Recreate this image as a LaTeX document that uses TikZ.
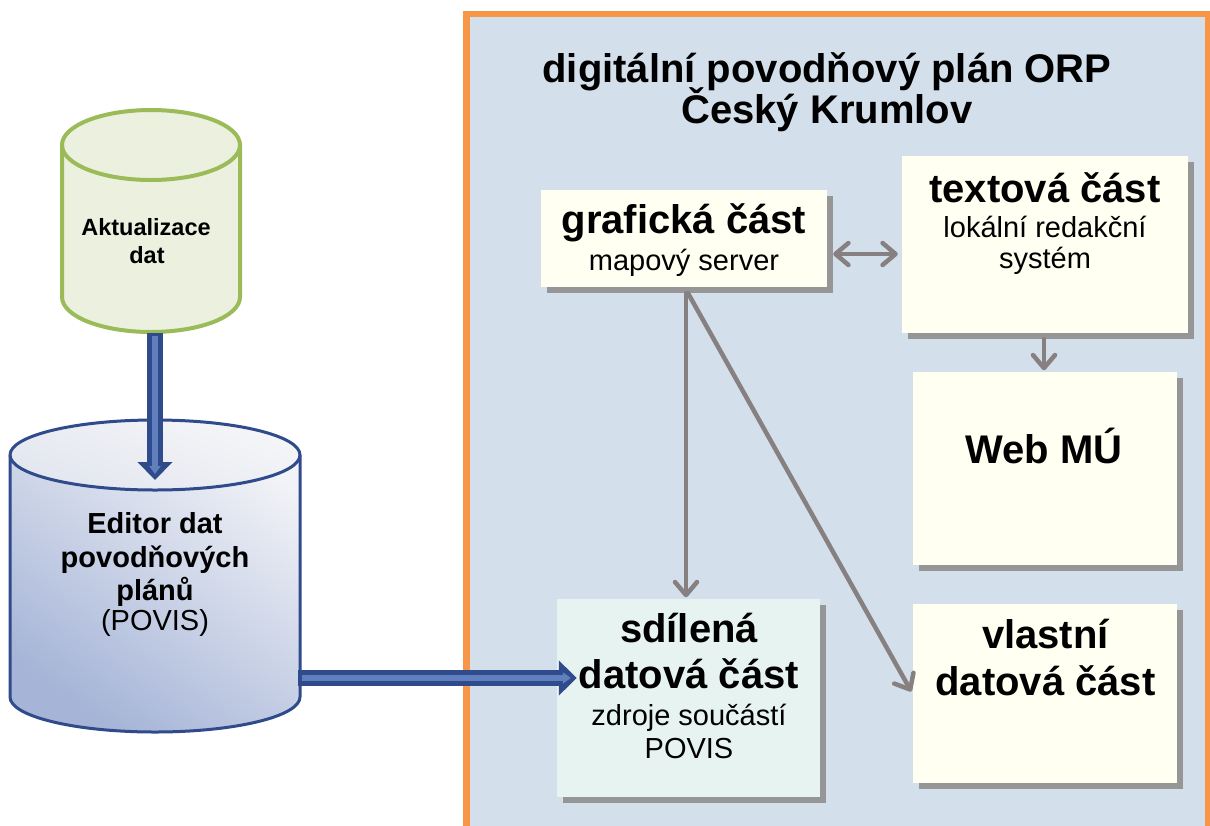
\documentclass[tikz,border=0pt]{standalone}
\usepackage{fontspec}
\setmainfont{Liberation Sans}
\usetikzlibrary{arrows.meta,calc}
\definecolor{frameFill}{RGB}{212,223,236}
\definecolor{frameLine}{RGB}{247,150,70}
\definecolor{boxIvory}{RGB}{255,255,242}
\definecolor{boxCyan}{RGB}{230,243,241}
\definecolor{shadowGray}{RGB}{150,150,150}
\definecolor{connGray}{RGB}{135,128,128}
\definecolor{navyDark}{RGB}{47,75,140}
\definecolor{navyLight}{RGB}{95,127,190}
\definecolor{greenLine}{RGB}{155,187,89}
\definecolor{greenFill}{RGB}{235,241,222}
\definecolor{edLight}{RGB}{242,243,247}
\definecolor{edDark}{RGB}{165,180,215}
\definecolor{edTopA}{RGB}{246,246,248}
\definecolor{edTopB}{RGB}{226,230,239}
\tikzset{
  panel/.style={rectangle, draw=none, inner sep=0pt,
    preaction={fill=shadowGray, transform canvas={xshift=5.5pt,yshift=-6pt}}},
  ivorybox/.style={panel, fill=boxIvory},
  cyanbox/.style={panel, fill=boxCyan},
  headtxt/.style={anchor=base, inner sep=0pt, font=\fontsize{40}{40}\selectfont\bfseries},
  subtxt/.style={anchor=base, inner sep=0pt, font=\fontsize{29}{29}\selectfont},
  cylbold/.style={anchor=base, inner sep=0pt, font=\fontsize{29}{29}\selectfont\bfseries},
  cylreg/.style={anchor=base, inner sep=0pt, font=\fontsize{29}{29}\selectfont},
  aktbold/.style={anchor=base, inner sep=0pt, font=\fontsize{23.5}{23.5}\selectfont\bfseries},
  gconn/.style={draw=connGray, line width=4.5pt, line cap=round},
  gtip/.style={-{Straight Barb[round,length=13pt,width=22pt]}},
  gdtip/.style={{Straight Barb[round,length=13pt,width=22pt]}-{Straight Barb[round,length=13pt,width=22pt]}},
  bigouter/.style={draw=navyDark, line width=16pt, -{Triangle[length=18pt,width=34pt]}},
  biginner/.style={draw=navyLight, line width=6pt, -{Triangle[length=8pt,width=11pt]}}
}
\begin{document}
\begin{tikzpicture}[x=1pt,y=-1pt]
\clip (0,0) rectangle (1210,825);
\fill[white] (0,0) rectangle (1210,825);

% frame
\draw[frameLine, fill=frameFill, line width=6.5pt] (466.5,14) rectangle (1208.5,845);
\node[headtxt] (title1) at (827,82) {digitální povodňový plán ORP};
\node[headtxt] (title2) at (827,123) {Český Krumlov};

% boxes
\node[ivorybox, minimum width=286pt, minimum height=97pt] (graf) at (684,238.5) {};
\node[ivorybox, minimum width=286pt, minimum height=177pt] (text) at (1045,244.5) {};
\node[ivorybox, minimum width=264pt, minimum height=193pt] (web) at (1045,468.5) {};
\node[ivorybox, minimum width=264pt, minimum height=179pt] (vlast) at (1045,693.5) {};
\node[cyanbox, minimum width=263pt, minimum height=198pt] (sdil) at (688.5,698) {};

\node[headtxt] (graf1) at (684,233) {grafická část};
\node[subtxt] (graf2) at (684,270) {mapový server};
\node[headtxt] (text1) at (1045,202) {textová část};
\node[subtxt] (text2) at (1045,237) {lokální redakční};
\node[subtxt] (text3) at (1045,268) {systém};
\node[headtxt] (web1) at (1044,463) {Web MÚ};
\node[headtxt] (vlast1) at (1045.5,648) {vlastní};
\node[headtxt] (vlast2) at (1045.5,695) {datová část};
\node[headtxt] (sdil1) at (689,642) {sdílená};
\node[headtxt] (sdil2) at (689,688) {datová část};
\node[subtxt] (sdil3) at (689,725) {zdroje součástí};
\node[subtxt] (sdil4) at (689,758) {POVIS};

% gray connectors
\draw[gconn, gdtip] ($(graf.east)+(6,15.5)$) -- ($(text.west)+(-4,9.5)$);
\draw[gconn, gtip] ($(text.south)+(-1,6)$) -- ($(web.north)+(-1,-1.5)$);
\draw[gconn, gtip] ($(graf.south)+(2,6)$) -- ($(sdil.north)+(-2.5,-1.5)$);
\draw[gconn, gtip] ($(graf.south)+(4,6)$) -- ($(vlast.west)+(-1.5,-2)$);

% Aktualizace cylinder
\filldraw[draw=greenLine, fill=greenFill, line width=4pt]
  (62,145) -- (62,297) arc[start angle=180, end angle=360, x radius=89pt, y radius=35pt]
  -- (240,145) arc[start angle=0, end angle=180, x radius=89pt, y radius=35pt] -- cycle;
\draw[greenLine, line width=4pt] (62,145) arc[start angle=180, end angle=360, x radius=89pt, y radius=35pt];
\coordinate (akt) at (151,220);
\node[aktbold] (akt1) at (146,235) {Aktualizace};
\node[aktbold] (akt2) at (147,263) {dat};
\coordinate (aktbot) at (155,333);

% Editor cylinder
\shade[left color=edLight, right color=edDark, shading angle=-35]
  (10,455) -- (10,697) arc[start angle=180, end angle=360, x radius=145pt, y radius=35pt]
  -- (300,455) arc[start angle=0, end angle=180, x radius=145pt, y radius=35pt] -- cycle;
\shade[left color=edTopA, right color=edTopB, shading angle=-20]
  (155,455) ellipse[x radius=145pt, y radius=35pt];
\draw[navyDark, line width=3pt]
  (10,455) -- (10,697) arc[start angle=180, end angle=360, x radius=145pt, y radius=35pt]
  -- (300,455) arc[start angle=0, end angle=180, x radius=145pt, y radius=35pt] -- cycle;
\draw[navyDark, line width=3pt] (10,455) arc[start angle=180, end angle=360, x radius=145pt, y radius=35pt];
\node[cylbold] (ed1) at (155,533) {Editor dat};
\node[cylbold] (ed2) at (155,567) {povodňových};
\node[cylbold] (ed3) at (155,600) {plánů};
\node[cylreg] (ed4) at (155,630) {(POVIS)};
\coordinate (edtop) at (155,480);
\coordinate (edright) at (298,678);

% blue arrows
\draw[bigouter] (aktbot) -- (edtop);
\draw[biginner] ($(aktbot)+(0,3)$) -- ($(edtop)+(0,-6)$);
\draw[bigouter] (edright) -- ($(sdil.west)+(20,-20)$);
\draw[biginner] ($(edright)+(4,0)$) -- ($(sdil.west)+(14,-20)$);
\end{tikzpicture}
\end{document}
